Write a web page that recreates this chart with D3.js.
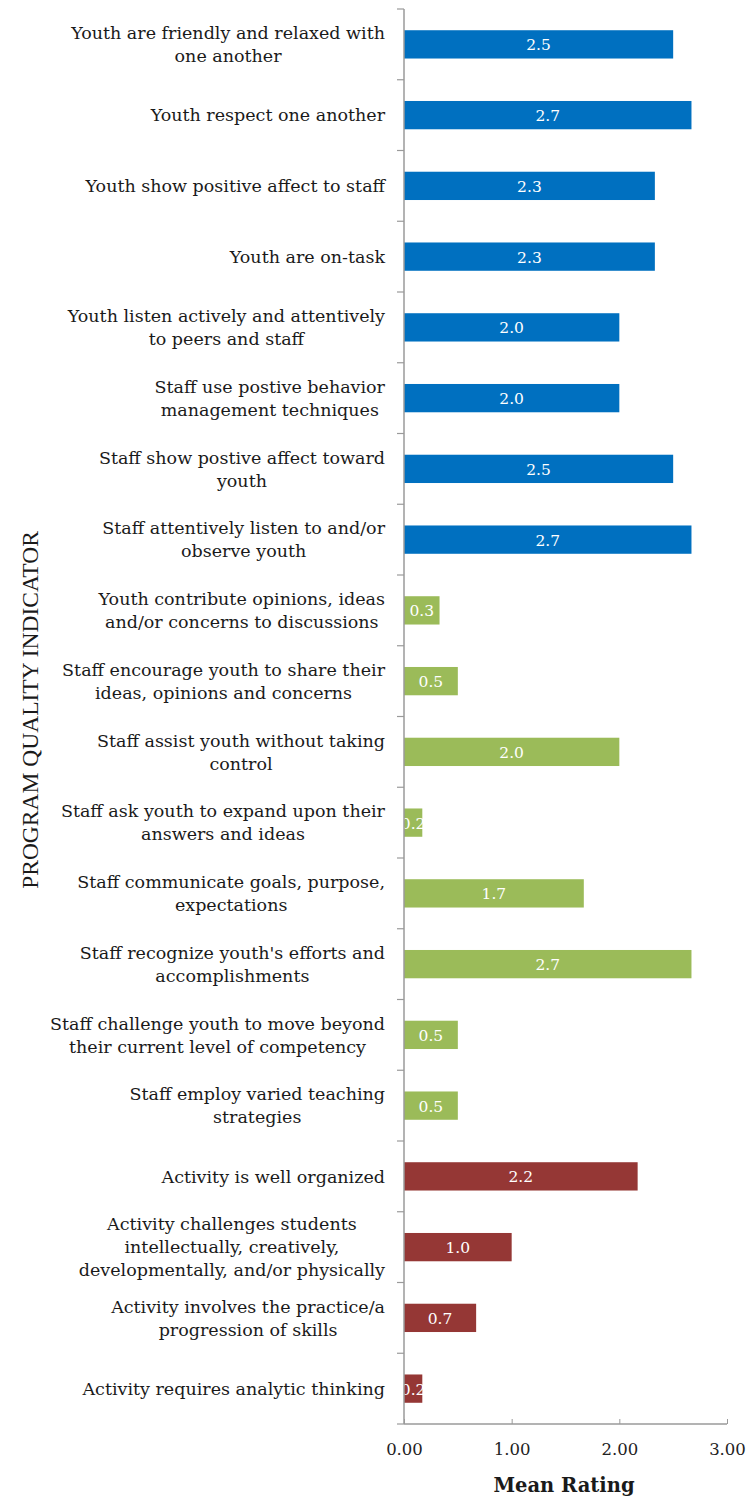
<!DOCTYPE html>
<html lang="en">
<head>
<meta charset="utf-8">
<title>Program Quality Indicators</title>
<script src="https://d3js.org/d3.v7.min.js"></script>
<style>
  body { margin: 0; background: #fff; }
</style>
</head>
<body>
<script>
// indicator labels, "|" marks a line break
var categories = [
  "Youth are friendly and relaxed with|one another",
  "Youth respect one another",
  "Youth show positive affect to staff",
  "Youth are on-task",
  "Youth listen actively and attentively|to peers and staff",
  "Staff use postive behavior|management techniques",
  "Staff show postive affect toward|youth",
  "Staff attentively listen to and/or|observe youth",
  "Youth contribute opinions, ideas|and/or concerns to discussions",
  "Staff encourage youth to share their|ideas, opinions and concerns",
  "Staff assist youth without taking|control",
  "Staff ask youth to expand upon their|answers and ideas",
  "Staff communicate goals, purpose,|expectations",
  "Staff recognize youth's efforts and|accomplishments",
  "Staff challenge youth to move beyond|their current level of competency",
  "Staff employ varied teaching|strategies",
  "Activity is well organized",
  "Activity challenges students|intellectually, creatively,|developmentally, and/or physically",
  "Activity involves the practice/a|progression of skills",
  "Activity requires analytic thinking"
];
var values = [2.5, 2.67, 2.33, 2.33, 2.0, 2.0, 2.5, 2.67,
              0.33, 0.5, 2.0, 0.17, 1.67, 2.67, 0.5, 0.5,
              2.17, 1.0, 0.67, 0.17];
var groups = ["a","a","a","a","a","a","a","a",
              "b","b","b","b","b","b","b","b",
              "c","c","c","c"];
var xTicks = [0, 1, 2, 3];

var W = 749, H = 1498;
var plotLeft = 404, plotRight = 727, plotTop = 9, plotBottom = 1424;

var svg = d3.select("body").append("svg")
  .attr("width", W).attr("height", H);

var color = d3.scaleOrdinal()
  .domain(["a", "b", "c"])
  .range(["#0070c0", "#9bbb59", "#953735"]);

var x = d3.scaleLinear().domain([0, 3]).range([plotLeft, plotRight]);
var y = d3.scaleBand()
  .domain(d3.range(categories.length))
  .range([plotTop, plotBottom])
  .paddingInner(0.6)
  .paddingOuter(0.3);

var step = y.step();
var labelFont = "'DejaVu Serif', Georgia, serif";

// bars
svg.selectAll(".bar")
  .data(values)
  .enter().append("rect")
  .attr("class", "bar")
  .attr("x", x(0))
  .attr("y", function(d, i) { return y(i); })
  .attr("width", function(d) { return x(d) - x(0); })
  .attr("height", y.bandwidth())
  .attr("fill", function(d, i) { return color(groups[i]); });

// value labels (white, centred on bar)
svg.selectAll(".val")
  .data(values)
  .enter().append("text")
  .attr("class", "val")
  .attr("x", function(d) { return (x(0) + x(d)) / 2; })
  .attr("y", function(d, i) { return y(i) + y.bandwidth() / 2; })
  .attr("dy", "0.38em")
  .attr("text-anchor", "middle")
  .attr("fill", "#fff")
  .style("font-family", labelFont)
  .style("font-size", "15.5px")
  .text(function(d) { return d3.format(".1f")(d); });

// category axis line and boundary ticks
var axisColor = "#9a9a9a";
svg.append("line")
  .attr("x1", plotLeft).attr("x2", plotLeft)
  .attr("y1", plotTop).attr("y2", plotBottom)
  .attr("stroke", axisColor).attr("stroke-width", 1.5);

svg.selectAll(".ytick")
  .data(d3.range(categories.length + 1))
  .enter().append("line")
  .attr("class", "ytick")
  .attr("x1", plotLeft - 7).attr("x2", plotLeft)
  .attr("y1", function(i) { return plotTop + i * step; })
  .attr("y2", function(i) { return plotTop + i * step; })
  .attr("stroke", axisColor).attr("stroke-width", 1.2);

// category labels, wrapped lines centred on each other, block right aligned
var lineH = 23;
var labels = svg.selectAll(".cat")
  .data(categories)
  .enter().append("text")
  .attr("class", "cat")
  .attr("text-anchor", "middle")
  .attr("fill", "#1a1a1a")
  .style("font-family", labelFont)
  .style("font-size", "17.5px");

labels.each(function(d, i) {
  var lines = d.split("|");
  var t = d3.select(this);
  var cy = y(i) + y.bandwidth() / 2;
  var y0 = cy - (lines.length - 1) * lineH / 2;
  lines.forEach(function(s, k) {
    t.append("tspan").attr("y", y0 + k * lineH).attr("dy", "0.35em").text(s);
  });
  var maxW = 0;
  t.selectAll("tspan").each(function() {
    maxW = Math.max(maxW, this.getComputedTextLength());
  });
  t.selectAll("tspan").attr("x", 385 - maxW / 2);
});

// value axis
var xAxis = svg.append("g")
  .attr("transform", "translate(0," + plotBottom + ")")
  .call(d3.axisBottom(x).tickValues(xTicks).tickSize(-5).tickPadding(19)
    .tickFormat(d3.format(".2f")));
xAxis.select(".domain").attr("stroke", axisColor).attr("stroke-width", 1.5)
  .attr("d", "M" + plotLeft + ",0H" + plotRight);
xAxis.selectAll(".tick line").attr("stroke", axisColor);
xAxis.selectAll(".tick text")
  .attr("fill", "#222")
  .style("font-family", labelFont)
  .style("font-size", "16.5px");

svg.append("text")
  .attr("x", 564).attr("y", 1492)
  .attr("text-anchor", "middle")
  .attr("font-weight", "bold")
  .attr("fill", "#1a1a1a")
  .style("font-family", labelFont)
  .style("font-size", "19.5px")
  .text("Mean Rating");

svg.append("text")
  .attr("transform", "translate(38,710) rotate(-90)")
  .attr("text-anchor", "middle")
  .attr("fill", "#1a1a1a")
  .style("font-family", "'Liberation Serif', 'Times New Roman', serif")
  .style("font-size", "23.5px")
  .text("PROGRAM QUALITY INDICATOR");
</script>
</body>
</html>
